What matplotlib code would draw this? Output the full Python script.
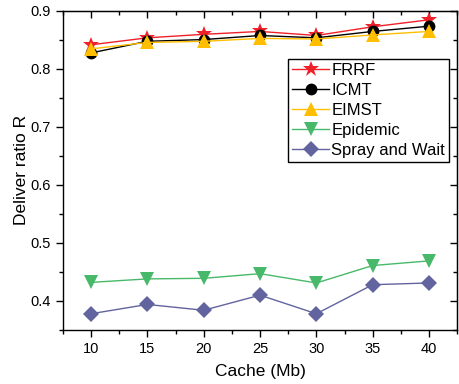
import matplotlib
matplotlib.use("Agg")
import matplotlib.pyplot as plt

plt.rcParams['font.family'] = ['Liberation Sans', 'DejaVu Sans']

cache = [10, 15, 20, 25, 30, 35, 40]
frrf = [0.841, 0.853, 0.859, 0.864, 0.857, 0.872, 0.884]
icmt = [0.827, 0.847, 0.850, 0.857, 0.853, 0.864, 0.873]
eimst = [0.834, 0.845, 0.847, 0.852, 0.851, 0.858, 0.864]
epidemic = [0.432, 0.438, 0.439, 0.447, 0.431, 0.461, 0.469]
spray = [0.378, 0.394, 0.384, 0.410, 0.378, 0.428, 0.431]
labels = ["FRRF", "ICMT", "EIMST", "Epidemic", "Spray and Wait"]

fig = plt.figure(figsize=(4.59, 3.84), dpi=100)
ax = fig.add_axes([0.137, 0.1406, 0.859, 0.832])

series = [
    (frrf, '#f0202a', '*', 12),
    (icmt, '#000000', 'o', 8.5),
    (eimst, '#ffbf00', '^', 10),
    (epidemic, '#48b96a', 'v', 10),
    (spray, '#61649e', 'D', 8),
]
for (vals, col, mk, ms), lab in zip(series, labels):
    ax.plot(cache, vals, color=col, marker=mk, markersize=ms, linewidth=1,
            markeredgewidth=0, label=lab)

ax.set_xlim(7.5, 42.5)
ax.set_ylim(0.35, 0.9)
ax.set_xticks(cache)
ax.set_xticks([7.5 + 5 * i for i in range(8)], minor=True)
ax.set_yticks([0.4, 0.5, 0.6, 0.7, 0.8, 0.9])
ax.set_yticklabels(['0.4', '0.5', '0.6', '0.7', '0.8', '0.9'])
ax.set_yticks([0.35 + 0.1 * i for i in range(6)], minor=True)
ax.tick_params(which='major', direction='out', length=5, width=1, labelsize=10.5)
ax.tick_params(which='minor', direction='out', length=3, width=1)

# mirrored axes on top and right with inward ticks
top = ax.secondary_xaxis('top')
top.set_xticks(cache)
top.set_xticks([7.5 + 5 * i for i in range(8)], minor=True)
top.tick_params(which='major', direction='in', length=5, width=1, labeltop=False)
top.tick_params(which='minor', direction='in', length=3, width=1)
right = ax.secondary_yaxis('right')
right.set_yticks([0.4, 0.5, 0.6, 0.7, 0.8, 0.9])
right.set_yticks([0.35 + 0.1 * i for i in range(6)], minor=True)
right.tick_params(which='major', direction='in', length=5, width=1, labelright=False)
right.tick_params(which='minor', direction='in', length=3, width=1)

for s in ax.spines.values():
    s.set_linewidth(1)

ax.set_xlabel('Cache (Mb)', fontsize=12.5, labelpad=6)
ax.set_ylabel('Deliver ratio R', fontsize=12.5, labelpad=1)

leg = ax.legend(loc='upper left', bbox_to_anchor=(0.571, 0.848), fontsize=12,
                frameon=True, fancybox=False, edgecolor='black', framealpha=1,
                handlelength=2.2, handletextpad=0.15, borderpad=0.25,
                labelspacing=0.3, borderaxespad=0)
leg.get_frame().set_linewidth(1)

fig.savefig('out.png', dpi=100)
